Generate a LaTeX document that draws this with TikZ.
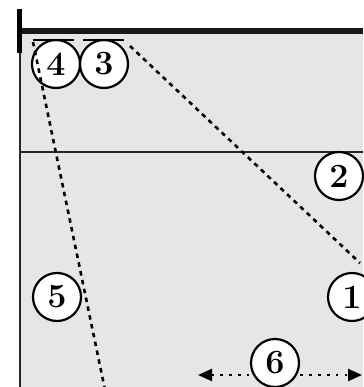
\documentclass[tikz,border=0pt]{standalone}
\usepackage{tikz}
\usetikzlibrary{positioning,arrows.meta}
\definecolor{courtgray}{HTML}{E5E6E8}

\begin{document}
\begin{tikzpicture}[
    x=1pt, y=-1pt,
    player/.style={circle, draw, line width=2.2pt, fill=white, minimum size=48pt, inner sep=0pt,
      font=\fontsize{34}{34}\selectfont\bfseries},
    thinline/.style={line width=2pt, black!85},
    route/.style={line width=2.6pt, dash pattern=on 4.5pt off 4.5pt},
    slide/.style={line width=2.4pt, dash pattern=on 2.4pt off 6.5pt, {Triangle[length=14pt, width=12pt]}-{Triangle[length=14pt, width=12pt]}},
    bar/.style={line width=2pt}
]
\useasboundingbox (0,0) rectangle (363,387);
\fill[courtgray] (19,31) rectangle (363,387);

% net, post and lines
\draw[thinline] (19.5,30) -- (19.5,387);
\draw[thinline] (19,152) -- (363,152);
\draw[line width=6pt, black!90] (17,31) -- (363,31);
\draw[line width=5pt] (19.5,9) -- (19.5,53);

% sliding
\coordinate (s6l) at (198,375);
\coordinate (s6r) at (362,375);
\draw[slide] (s6l) -- (s6r);

% players
\node[player] (p4) at (56,64) {4};
\node[player] (p3) at (104,64) {3};
\node[player] (p2) at (339,176) {2};
\node[player] (p1) at (352,297) {1};
\node[player] (p5) at (57,297) {5};
\node[player] (p6) at (275,363) {6};

% hands at the net
\draw[bar] (33,40) -- (74,40);
\draw[bar] (83,40) -- (124,40);

% routes
\coordinate (r3a) at (130,46);
\coordinate (r3b) at (360,263);
\draw[route] (r3a) -- (r3b);
\coordinate (r4a) at (33,42);
\coordinate (r4b) at (105,390);
\draw[route] (r4a) -- (r4b);
\end{tikzpicture}
\end{document}
